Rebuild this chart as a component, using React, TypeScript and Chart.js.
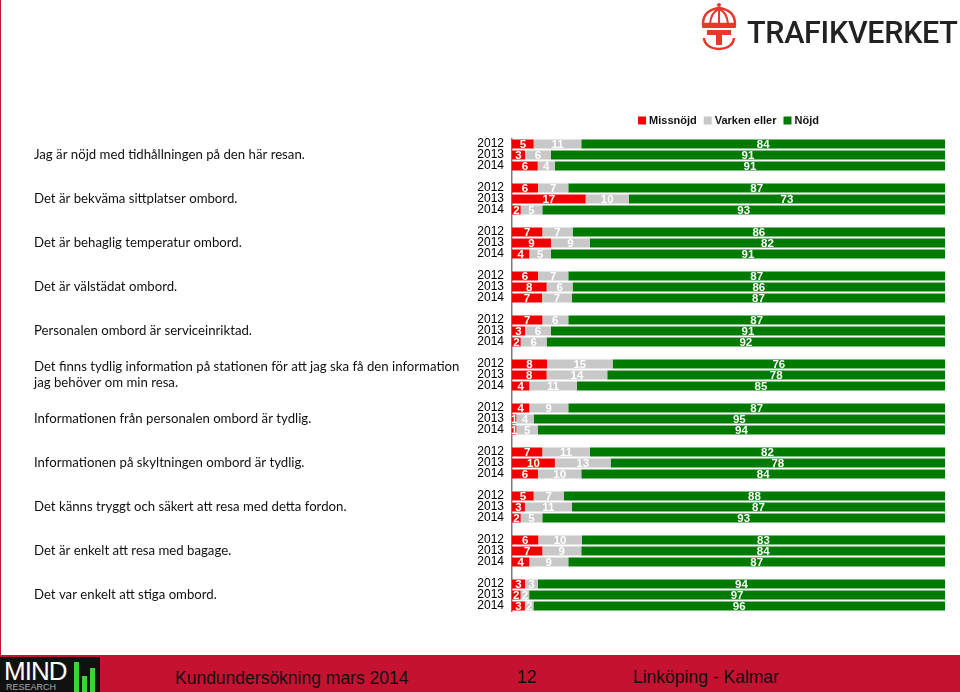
import React, { useEffect, useRef } from "react";
import { Chart, registerables } from "chart.js";
Chart.register(...registerables);

const questions = [
  "Jag är nöjd med tidhållningen på den här resan.",
  "Det är bekväma sittplatser ombord.",
  "Det är behaglig temperatur ombord.",
  "Det är välstädat ombord.",
  "Personalen ombord är serviceinriktad.",
  "Det finns tydlig information på stationen för att jag ska få den information\njag behöver om min resa.",
  "Informationen från personalen ombord är tydlig.",
  "Informationen på skyltningen ombord är tydlig.",
  "Det känns tryggt och säkert att resa med detta fordon.",
  "Det är enkelt att resa med bagage.",
  "Det var enkelt att stiga ombord.",
];
const years = ["2012", "2013", "2014"];
const missnojd = [[5, 3, 6], [6, 17, 2], [7, 9, 4], [6, 8, 7], [7, 3, 2], [8, 8, 4], [4, 1, 1], [7, 10, 6], [5, 3, 2], [6, 7, 4], [3, 2, 3]];
const varken = [[11, 6, 4], [7, 10, 5], [7, 9, 5], [7, 6, 7], [6, 6, 6], [15, 14, 11], [9, 4, 5], [11, 13, 10], [7, 11, 5], [10, 9, 9], [3, 2, 2]];
const nojd = [[84, 91, 91], [87, 73, 93], [86, 82, 91], [87, 86, 87], [87, 91, 92], [76, 78, 85], [87, 95, 94], [82, 78, 84], [88, 87, 93], [83, 84, 87], [94, 97, 96]];
const seriesNames = ["Missnöjd", "Varken eller", "Nöjd"];
const seriesColors = ["#F20000", "#C8C8C8", "#007A00"];

function buildRows() {
  const labels: string[] = [];
  const raw: (number | null)[][] = [[], [], []];
  const share: (number | null)[][] = [[], [], []];
  const src = [missnojd, varken, nojd];
  questions.forEach((_, q) => {
    years.forEach((y, i) => {
      labels.push(y);
      const sum = src.reduce((s, arr) => s + arr[q][i], 0);
      src.forEach((arr, k) => {
        raw[k].push(arr[q][i]);
        share[k].push((arr[q][i] / sum) * 100);
      });
    });
    if (q < questions.length - 1) {
      labels.push("");
      for (let k = 0; k < 3; k++) {
        raw[k].push(null);
        share[k].push(null);
      }
    }
  });
  return { labels, raw, share };
}

const questionPlugin = {
  id: "questionLabels",
  afterDraw(chart: any) {
    const ctx = chart.ctx;
    const ys = chart.scales.y;
    ctx.save();
    ctx.font = "13.2px Lato";
    ctx.fillStyle = "#111";
    ctx.textBaseline = "middle";
    ctx.textAlign = "left";
    questions.forEach((q, i) => {
      const lines = q.split("\n");
      const cy = ys.getPixelForValue(i * 4 + 1);
      const lh = 16;
      lines.forEach((ln, k) => {
        const y = cy + (k - (lines.length - 1) / 2) * lh;
        ctx.fillText(ln, 34, y);
      });
    });
    ctx.restore();
  },
};

const legendPlugin = {
  id: "customLegend",
  afterDraw(chart: any) {
    const ctx = chart.ctx;
    const area = chart.chartArea;
    ctx.save();
    ctx.font = "bold 11px 'Liberation Sans', Arial";
    ctx.textBaseline = "middle";
    const box = 8;
    const gapText = 3;
    const gapItem = 7;
    const widths = seriesNames.map((n) => ctx.measureText(n).width);
    const total = widths.reduce((s, w) => s + box + gapText + w, 0) + gapItem * (seriesNames.length - 1);
    let x = (area.left + area.right) / 2 - total / 2;
    const y = area.top - 18;
    seriesNames.forEach((n, i) => {
      ctx.fillStyle = seriesColors[i];
      ctx.fillRect(x, y - box / 2, box, box);
      x += box + gapText;
      ctx.fillStyle = "#111";
      ctx.fillText(n, x, y);
      x += widths[i] + gapItem;
    });
    ctx.restore();
  },
};

const dataLabelPlugin = {
  id: "dataLabels",
  afterDatasetsDraw(chart: any) {
    const ctx = chart.ctx;
    ctx.save();
    ctx.font = "bold 11.5px 'Liberation Sans', Arial";
    ctx.fillStyle = "#FFFFFF";
    ctx.textAlign = "center";
    ctx.textBaseline = "middle";
    chart.data.datasets.forEach((ds: any, di: number) => {
      const meta = chart.getDatasetMeta(di);
      meta.data.forEach((el: any, idx: number) => {
        const v = ds.rawValues[idx];
        if (v === null || v === undefined) return;
        const p = el.getProps(["x", "y", "base"], true);
        const cx = (p.x + p.base) / 2;
        ctx.fillText(String(v), cx, p.y + 0.5);
      });
    });
    ctx.restore();
  },
};

function CrownLogo() {
  return (
    <svg width="40" height="50" viewBox="0 0 40 50" style={{ position: "absolute", left: 699, top: 2 }}>
      <circle cx="20" cy="3" r="2" fill="#E8382E" />
      <path d="M4 22 Q4 8 20 6 Q36 8 36 22 Z" fill="none" stroke="#E8382E" strokeWidth="2.5" />
      <path d="M11 22 Q12 10 20 7 Q28 10 29 22" fill="none" stroke="#E8382E" strokeWidth="2" />
      <line x1="20" y1="7" x2="20" y2="22" stroke="#E8382E" strokeWidth="2" />
      <rect x="3" y="22" width="34" height="4" rx="1" fill="#E8382E" />
      <rect x="8" y="28" width="24" height="5" fill="#E8382E" />
      <rect x="17" y="33" width="6" height="10" fill="#E8382E" />
      <path d="M5 36 Q6 46 20 47 Q34 46 35 36" fill="none" stroke="#E8382E" strokeWidth="2.5" />
    </svg>
  );
}

export default function App() {
  const ref = useRef<HTMLCanvasElement | null>(null);
  useEffect(() => {
    if (!ref.current) return;
    const { labels, raw, share } = buildRows();
    const chart = new Chart(ref.current, {
      type: "bar",
      data: {
        labels,
        datasets: share.map((d, i) => ({
          label: seriesNames[i],
          data: d,
          rawValues: raw[i],
          backgroundColor: seriesColors[i],
          borderWidth: 0,
          barPercentage: 1,
          categoryPercentage: 0.8,
          clip: 0,
        })),
      },
      options: {
        indexAxis: "y",
        animation: false,
        responsive: false,
        layout: { padding: { left: 470, right: 15, top: 138.5, bottom: 80.5 } },
        plugins: { legend: { display: false }, tooltip: { enabled: false } },
        scales: {
          x: { stacked: true, min: 0, max: 100, display: false },
          y: {
            stacked: true,
            grid: { display: false },
            border: { display: true, color: "#7A7A7A", width: 1.5 },
            ticks: {
              autoSkip: false,
              padding: 0,
              color: "#000",
              font: { family: "'Liberation Sans', Arial", size: 12 },
            },
            afterFit(scale: any) {
              scale.width = 42;
            },
          },
        },
      },
      plugins: [dataLabelPlugin, questionPlugin, legendPlugin],
    } as any);
    return () => chart.destroy();
  }, []);

  return (
    <div style={{ position: "fixed", left: 0, top: 0, width: 960, height: 692, background: "#fff", overflow: "hidden" }}>
      <canvas ref={ref} width={960} height={692} style={{ position: "absolute", left: 0, top: 0 }} />
      <div style={{ position: "absolute", left: 0, top: 0, width: 1, height: 692, background: "#C8102E" }} />
      <CrownLogo />
      <div
        style={{
          position: "absolute",
          left: 747,
          top: 13,
          fontFamily: "Roboto, sans-serif",
          fontWeight: 500,
          fontSize: 30.5,
          letterSpacing: -0.3,
          color: "#222",
          lineHeight: "40px",
        }}
      >
        TRAFIKVERKET
      </div>
      <div style={{ position: "absolute", left: 0, top: 655, width: 960, height: 37, background: "#C41230" }} />
      <div style={{ position: "absolute", left: 0, top: 657, width: 100, height: 35, background: "#111" }}>
        <div style={{ position: "absolute", left: 4, top: 0, fontFamily: "'Liberation Sans', Arial", fontSize: 26, color: "#fff", lineHeight: "28px", letterSpacing: -1 }}>
          MIND
        </div>
        <div style={{ position: "absolute", left: 6, top: 25, fontFamily: "'Liberation Sans', Arial", fontSize: 9, color: "#aaa", lineHeight: "10px" }}>
          RESEARCH
        </div>
        <div style={{ position: "absolute", left: 74, top: 5, width: 5, height: 30, background: "#3CD23C" }} />
        <div style={{ position: "absolute", left: 82, top: 19, width: 5, height: 16, background: "#3CD23C" }} />
        <div style={{ position: "absolute", left: 90, top: 11, width: 5, height: 24, background: "#3CD23C" }} />
      </div>
      <div style={{ position: "absolute", left: 175, top: 667, fontFamily: "'Liberation Sans', Arial", fontSize: 17.5, color: "#111", lineHeight: "22px" }}>
        Kundundersökning mars 2014
      </div>
      <div style={{ position: "absolute", left: 517, top: 666, fontFamily: "'Liberation Sans', Arial", fontSize: 17.5, color: "#111", lineHeight: "22px" }}>
        12
      </div>
      <div style={{ position: "absolute", left: 633, top: 666, fontFamily: "'Liberation Sans', Arial", fontSize: 17.5, color: "#111", lineHeight: "22px" }}>
        Linköping - Kalmar
      </div>
    </div>
  );
}
